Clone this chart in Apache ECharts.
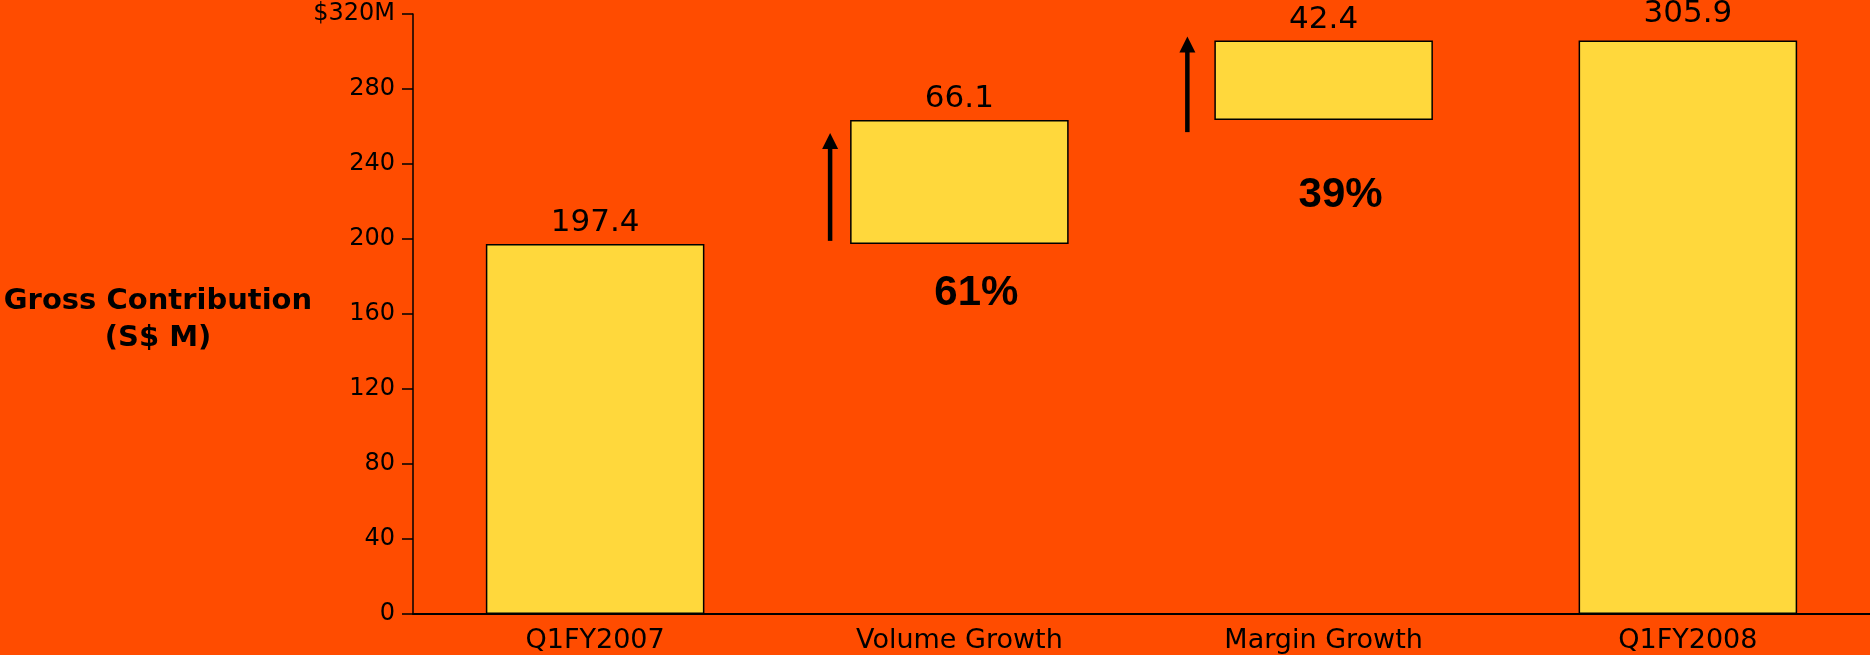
<!DOCTYPE html>
<html>
<head>
<meta charset="utf-8">
<script src="https://cdn.jsdelivr.net/npm/echarts@6/dist/echarts.min.js"></script>
<style>
  html, body { margin: 0; padding: 0; background: #FF4C00; }
  #chart { width: 1870px; height: 655px; }
</style>
</head>
<body>
<div id="chart"></div>
<script>
// ---- data ----
const categories = ['Q1FY2007', 'Volume Growth', 'Margin Growth', 'Q1FY2008'];
const values = [197.4, 66.1, 42.4, 305.9];
const isTotal = [true, false, false, true];
const yMin = 0, yMax = 320, yInterval = 40;
const pctLabels = ['', '61%', '39%', ''];
const pctLabelY = [null, 171, 223, null];
const arrowFrom = [null, 199, 257, null];
const arrowTo = [null, 256.5, 308, null];

// ---- styles ----
const BG = '#FF4C00';
const BAR = '#FFD83C';
const ARROW_GAP = [0, 20, 27, 0];

// waterfall bases
const bases = [];
let running = 0;
values.forEach((v, i) => {
  if (isTotal[i]) { bases.push(0); running = v; }
  else { bases.push(running); running += v; }
});

const arrowData = [];
arrowFrom.forEach((f, i) => { if (f != null) arrowData.push([i, f, arrowTo[i]]); });
const pctData = [];
pctLabels.forEach((t, i) => { if (t) pctData.push([i, pctLabelY[i], t]); });

const chart = echarts.init(document.getElementById('chart'), null, { renderer: 'canvas' });
chart.setOption({
  backgroundColor: BG,
  animation: false,
  title: {
    text: 'Gross Contribution\n(S$ M)',
    left: 153,
    top: 278,
    textAlign: 'center',
    textStyle: { fontFamily: 'DejaVu Sans', fontWeight: 'bold', fontSize: 29, lineHeight: 37, color: '#000' }
  },
  grid: { left: 413, right: 0, top: 14, bottom: 41, containLabel: false },
  xAxis: {
    type: 'category',
    data: categories,
    axisLine: { lineStyle: { color: '#000', width: 2 } },
    axisTick: { show: false },
    axisLabel: { color: '#000', fontFamily: 'DejaVu Sans', fontSize: 27, margin: 13 }
  },
  yAxis: {
    type: 'value',
    min: yMin, max: yMax, interval: yInterval,
    axisLine: { show: true, lineStyle: { color: '#000', width: 1.5 } },
    axisTick: { show: true, length: 11, lineStyle: { color: '#000', width: 1.5 } },
    splitLine: { show: false },
    axisLabel: {
      color: '#000', fontFamily: 'DejaVu Sans', fontSize: 24, margin: 18,
      formatter: v => v === yMax ? '$' + v + 'M' : String(v)
    }
  },
  series: [
    {
      type: 'bar', stack: 'w', silent: true,
      itemStyle: { color: 'transparent' },
      data: bases, barWidth: '60%'
    },
    {
      type: 'bar', stack: 'w', barWidth: '60%',
      itemStyle: { color: BAR, borderColor: '#000', borderWidth: 1.5 },
      label: {
        show: true, position: 'top', distance: 5,
        color: '#000', fontFamily: 'DejaVu Sans', fontSize: 31,
        formatter: p => p.value.toFixed(1)
      },
      data: values.map((v, i) => i === 3 ? { value: v, label: { distance: 11 } } : v)
    },
    {
      type: 'custom',
      silent: true,
      data: arrowData,
      renderItem: (params, api) => {
        const idx = api.value(0);
        const p0 = api.coord([idx, api.value(1)]);
        const p1 = api.coord([idx, api.value(2)]);
        const band = api.size([1, 0])[0];
        const x = p0[0] - band * 0.3 - ARROW_GAP[idx];
        const hh = 16, hw = 8;
        return {
          type: 'group',
          children: [
            { type: 'line', shape: { x1: x, y1: p0[1], x2: x, y2: p1[1] + hh - 1 },
              style: { stroke: '#000', lineWidth: 4.5 } },
            { type: 'polygon', shape: { points: [[x, p1[1]], [x - hw, p1[1] + hh], [x + hw, p1[1] + hh]] },
              style: { fill: '#000' } }
          ]
        };
      }
    },
    {
      type: 'scatter',
      silent: true,
      symbolSize: 0,
      itemStyle: { opacity: 1 },
      data: pctData,
      label: {
        show: true, position: 'inside', offset: [17, 0], opacity: 1,
        color: '#000', fontFamily: 'Liberation Sans', fontWeight: 'bold', fontSize: 42,
        formatter: p => p.value[2]
      }
    }
  ]
});
</script>
</body>
</html>
